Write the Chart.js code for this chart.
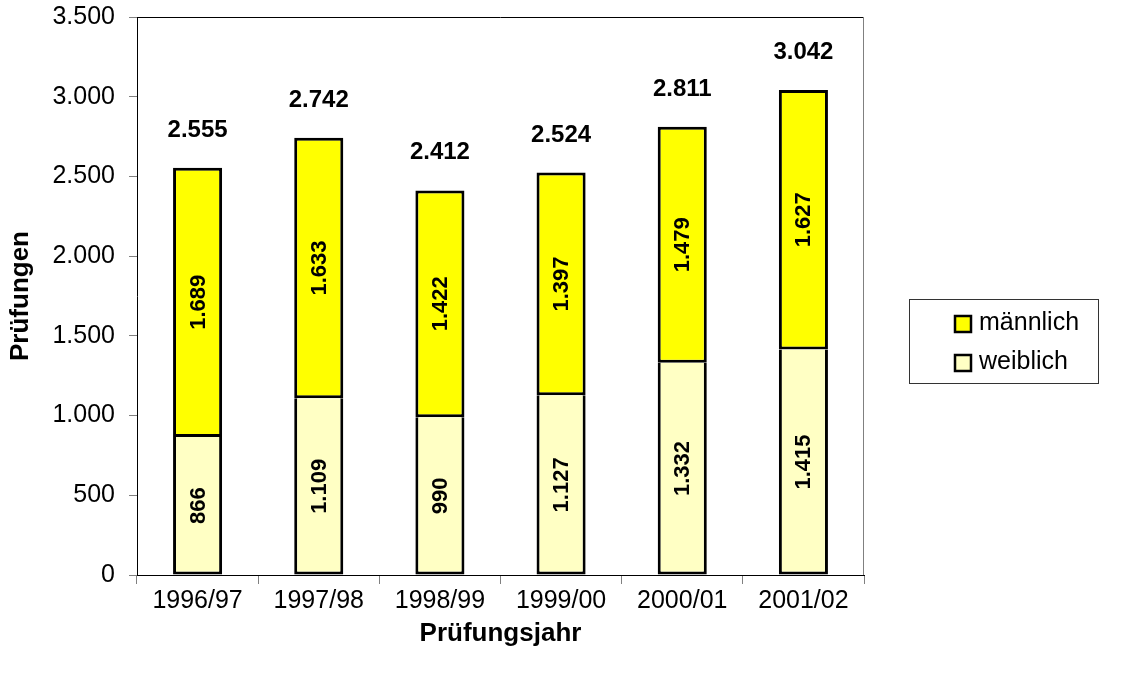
<!DOCTYPE html>
<html>
<head>
<meta charset="utf-8">
<script src="https://cdn.jsdelivr.net/npm/chart.js@4.4.0/dist/chart.umd.min.js"></script>
<style>
  body { margin: 0; background: #fff; }
  .wrap { width: 1127px; height: 676px; position: relative; }
</style>
</head>
<body>
<div class="wrap"><canvas id="myChart"></canvas></div>
<script>
const YEARS = ["1996/97", "1997/98", "1998/99", "1999/00", "2000/01", "2001/02"];
const WEIBLICH = [866, 1109, 990, 1127, 1332, 1415];
const MAENNLICH = [1689, 1633, 1422, 1397, 1479, 1627];
const TOTAL = [2555, 2742, 2412, 2524, 2811, 3042];
const LEGEND = [
  { text: "männlich", color: "#FFFF00" },
  { text: "weiblich", color: "#FFFFC4" },
];

const FONT = '"Liberation Sans", Arial, sans-serif';
Chart.defaults.font.family = FONT;
Chart.defaults.color = "#000";

// 1234 -> 1.234
const fmt = (n) => String(n).replace(/\B(?=(\d{3})+(?!\d))/g, ".");

// Rahmen, Werte und Legende
const extras = {
  id: "extras",
  afterDatasetsDraw(chart) {
    const { ctx, chartArea } = chart;
    ctx.save();
    // Rahmen oben / rechts
    ctx.lineWidth = 1;
    ctx.strokeStyle = "#000";
    ctx.beginPath();
    ctx.moveTo(chartArea.left, chartArea.top + 0.5);
    ctx.lineTo(chartArea.right, chartArea.top + 0.5);
    ctx.stroke();
    ctx.strokeStyle = "#808080";
    ctx.beginPath();
    ctx.moveTo(chartArea.right - 0.5, chartArea.top);
    ctx.lineTo(chartArea.right - 0.5, chartArea.bottom);
    ctx.stroke();

    // Werte in den Segmenten
    ctx.fillStyle = "#000";
    ctx.font = "bold 22px " + FONT;
    ctx.textAlign = "center";
    ctx.textBaseline = "middle";
    [WEIBLICH, MAENNLICH].forEach((values, i) => {
      chart.getDatasetMeta(i).data.forEach((el, j) => {
        ctx.save();
        ctx.translate(el.x, (el.y + el.base) / 2);
        ctx.rotate(-Math.PI / 2);
        ctx.fillText(fmt(values[j]), 0, 1);
        ctx.restore();
      });
    });

    // Summen
    ctx.font = "bold 24px " + FONT;
    ctx.textBaseline = "alphabetic";
    chart.getDatasetMeta(1).data.forEach((el, j) => {
      ctx.fillText(fmt(TOTAL[j]), el.x, el.y - 31);
    });

    // Legende
    ctx.strokeStyle = "#333";
    ctx.lineWidth = 1;
    ctx.strokeRect(909.5, 299.5, 189, 84);
    ctx.font = "25px " + FONT;
    ctx.textAlign = "left";
    ctx.textBaseline = "middle";
    LEGEND.forEach((item, i) => {
      const y = 316 + i * 39;
      ctx.fillStyle = item.color;
      ctx.fillRect(955, y, 16, 16);
      ctx.strokeStyle = "#000";
      ctx.lineWidth = 2.5;
      ctx.strokeRect(955, y, 16, 16);
      ctx.fillStyle = "#000";
      ctx.fillText(item.text, 979, y + 7);
    });
    ctx.restore();
  },
};

const ctx = document.getElementById("myChart").getContext("2d");
const myChart = new Chart(ctx, {
  type: "bar",
  data: {
    labels: YEARS,
    datasets: [
      {
        label: "weiblich",
        data: WEIBLICH,
        backgroundColor: "#FFFFC4",
        borderColor: "#000",
        borderWidth: 3,
        borderSkipped: "top",
        barPercentage: 0.405,
        categoryPercentage: 1,
      },
      {
        label: "männlich",
        data: MAENNLICH,
        backgroundColor: "#FFFF00",
        borderColor: "#000",
        borderWidth: 3,
        borderSkipped: false,
        barPercentage: 0.405,
        categoryPercentage: 1,
      },
    ],
  },
  options: {
    responsive: true,
    maintainAspectRatio: false,
    animation: false,
    layout: { padding: { left: 0, top: 17, right: 263, bottom: 0 } },
    plugins: {
      legend: { display: false },
      tooltip: { enabled: false },
    },
    scales: {
      x: {
        stacked: true,
        afterFit: (scale) => {
          scale.height = 101;
          scale.paddingLeft = 0;
          scale.paddingRight = 0;
        },
        grid: {
          drawOnChartArea: false,
          color: "#808080",
          tickLength: 9,
        },
        border: { color: "#000", width: 1 },
        ticks: { font: { size: 25 }, padding: 2, maxRotation: 0 },
        title: {
          display: true,
          text: "Prüfungsjahr",
          font: { size: 26, weight: "bold" },
          padding: { top: 0, bottom: 27 },
        },
      },
      y: {
        stacked: true,
        min: 0,
        max: 3500,
        afterFit: (scale) => {
          scale.width = 137;
          scale.paddingTop = 0;
          scale.paddingBottom = 0;
        },
        grid: {
          drawOnChartArea: false,
          color: "#808080",
          tickLength: 8,
        },
        border: { color: "#000", width: 1 },
        ticks: {
          stepSize: 500,
          font: { size: 25 },
          padding: 14,
          callback: (v) => fmt(v),
        },
        title: {
          display: true,
          text: "Prüfungen",
          font: { size: 26, weight: "bold" },
          padding: { top: 5, bottom: 0 },
        },
      },
    },
  },
  plugins: [extras],
});
</script>
</body>
</html>
